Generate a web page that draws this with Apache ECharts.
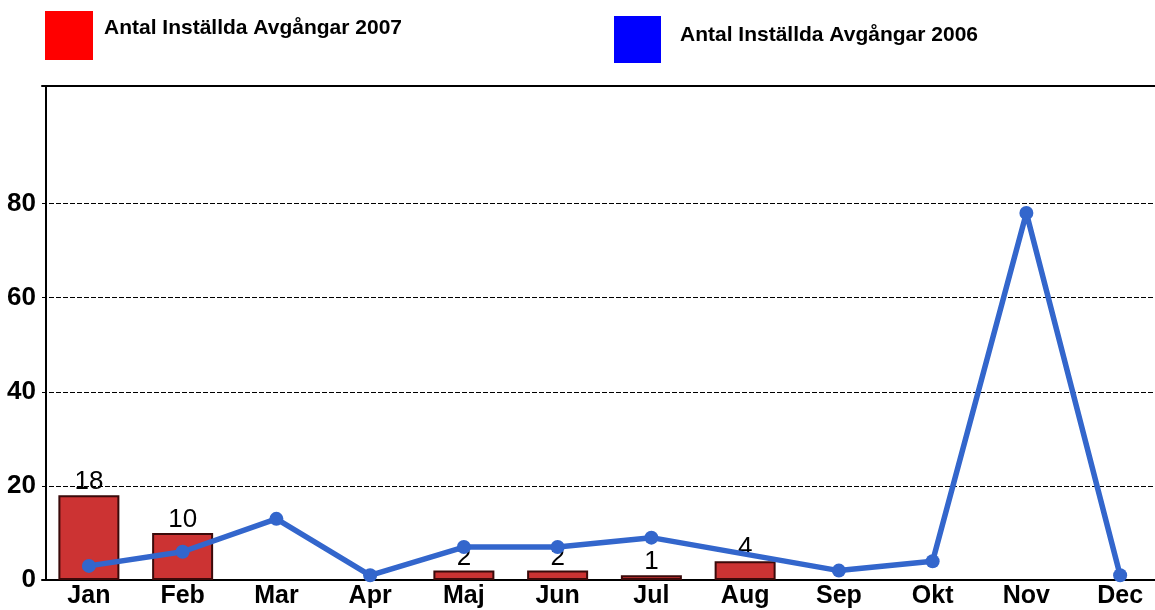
<!DOCTYPE html>
<html>
<head>
<meta charset="utf-8">
<style>
  html, body { margin: 0; padding: 0; background: #fff; overflow: hidden; }
  #chart { width: 1168px; height: 610px; }
</style>
<script src="https://cdn.jsdelivr.net/npm/echarts@6/dist/echarts.min.js"></script>
</head>
<body>
<div id="chart"></div>
<script>
// data
var months = ['Jan', 'Feb', 'Mar', 'Apr', 'Maj', 'Jun', 'Jul', 'Aug', 'Sep', 'Okt', 'Nov', 'Dec'];
var cancelled2007 = [18, 10, null, null, 2, 2, 1, 4, null, null, null, null];
var cancelled2006 = [3, 6, 13, 1, 7, 7, 9, null, 2, 4, 78, 1];
var yTicks = [0, 20, 40, 60, 80];

(function () {
    var myChart = echarts.init(document.getElementById('chart'));

    var font = 'Liberation Sans, Arial, sans-serif';

    var option = {
        animation: false,
        legend: [
            {
                left: 45, top: 11, padding: 0,
                itemWidth: 48, itemHeight: 49,
                icon: 'rect',
                data: [{ name: 'Antal Inställda Avgångar 2007', itemStyle: { color: '#ff0000', borderWidth: 0 } }],
                formatter: '{t|{name}}',
                textStyle: {
                    rich: {
                        t: { fontFamily: font, fontWeight: 'bold', fontSize: 21, color: '#000', padding: [0, 0, 14, 6] }
                    }
                }
            },
            {
                left: 614, top: 16, padding: 0,
                itemWidth: 47, itemHeight: 47,
                icon: 'rect',
                data: [{ name: 'Antal Inställda Avgångar 2006', itemStyle: { color: '#0000ff', borderWidth: 0 } }],
                formatter: '{t|{name}}',
                textStyle: {
                    rich: {
                        t: { fontFamily: font, fontWeight: 'bold', fontSize: 21, color: '#000', padding: [0, 0, 9, 14] }
                    }
                }
            }
        ],
        grid: {
            left: 42,
            top: 86,
            right: 1,
            bottom: 30,
            outerBoundsMode: 'none'
        },
        xAxis: [
            {
                type: 'category',
                data: months,
                axisTick: { show: false },
                axisLine: { lineStyle: { color: '#000', width: 2 } },
                axisLabel: {
                    color: '#000',
                    fontFamily: font,
                    fontWeight: 'bold',
                    fontSize: 25,
                    margin: 4
                }
            },
            {
                // linje överst
                type: 'category',
                data: months,
                position: 'top',
                axisTick: { show: false },
                axisLabel: { show: false },
                axisLine: { lineStyle: { color: '#000', width: 2 } }
            }
        ],
        yAxis: {
            type: 'value',
            min: 0,
            max: 105,
            interval: 20,
            offset: -4,
            axisLine: { show: true, lineStyle: { color: '#000', width: 2 } },
            axisTick: { show: true, length: 4, customValues: yTicks, lineStyle: { color: '#000' } },
            axisLabel: {
                customValues: yTicks,
                color: '#000',
                fontFamily: font,
                fontWeight: 'bold',
                fontSize: 26,
                margin: 10
            },
            splitLine: {
                lineStyle: { color: '#000', type: [5, 2], width: 1 }
            }
        },
        series: [
            {
                name: 'Antal Inställda Avgångar 2007',
                type: 'bar',
                data: cancelled2007,
                barWidth: 61,
                itemStyle: { color: '#cc3333', borderColor: '#3a0a0a', borderWidth: 2 },
                label: {
                    show: true,
                    position: 'top',
                    distance: 0,
                    color: '#000',
                    fontFamily: font,
                    fontSize: 26
                },
                z: 2
            },
            {
                name: 'Antal Inställda Avgångar 2006',
                type: 'line',
                data: cancelled2006,
                connectNulls: true,
                symbol: 'circle',
                symbolSize: 14,
                itemStyle: { color: '#3366cc' },
                lineStyle: { color: '#3366cc', width: 5.5 },
                z: 3
            }
        ]
    };

    myChart.setOption(option);
})();
</script>
</body>
</html>
